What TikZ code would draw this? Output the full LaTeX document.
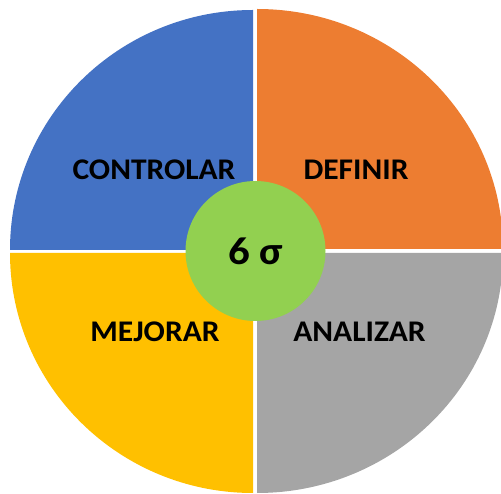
\documentclass[tikz,border=0pt]{standalone}
\usepackage{fontspec}
\setmainfont{Carlito}
\definecolor{qblue}{HTML}{4472C4}
\definecolor{qorange}{HTML}{ED7D31}
\definecolor{qgray}{HTML}{A5A5A5}
\definecolor{qyellow}{HTML}{FFC000}
\definecolor{qgreen}{HTML}{92D050}
\tikzset{
  phase/.style={font=\bfseries\fontsize{30}{32}\selectfont, text=black, inner sep=0pt, xscale=1.05},
  hub/.style={circle, fill=qgreen, minimum size=140pt, inner sep=0pt},
  hublabel/.style={font=\bfseries\fontsize{39}{41}\selectfont, text=black, inner sep=0pt, xscale=1.1}
}
\begin{document}
\begin{tikzpicture}[x=1pt,y=1pt]
  \useasboundingbox (0,0) rectangle (501,493);
  \clip (0,0) rectangle (501,493);
  % four quadrants of the cycle, separated by thin white gaps
  \fill[qblue]   (253,243) -- ++(-243,0) arc[start angle=180, end angle=90, x radius=243, y radius=240] -- cycle;
  \fill[qorange] (257,244) -- ++(0,240) arc[start angle=90, end angle=0, x radius=246, y radius=240] -- cycle;
  \fill[qgray]   (257,240) -- ++(246,0) arc[start angle=0, end angle=-90, x radius=246, y radius=240] -- cycle;
  \fill[qyellow] (253,240) -- ++(0,-240) arc[start angle=270, end angle=180, x radius=243, y radius=240] -- cycle;
  % phase labels
  \node[phase] (controlar) at (154,323) {CONTROLAR};
  \node[phase] (definir)   at (356,323) {DEFINIR};
  \node[phase] (mejorar)   at (155,161) {MEJORAR};
  \node[phase] (analizar)  at (359.5,161) {ANALIZAR};
  % central hub
  \node[hub] (center) at (255.5,242) {};
  \node[hublabel] (sigma) at (center) {6 σ};
\end{tikzpicture}
\end{document}
